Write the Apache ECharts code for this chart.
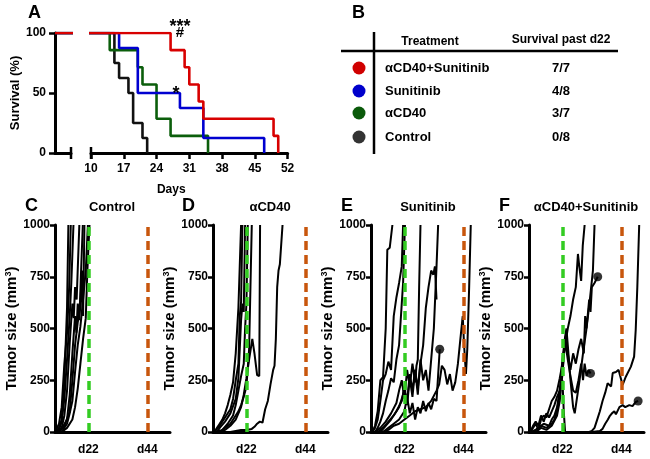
<!DOCTYPE html>
<html>
<head>
<meta charset="utf-8">
<script src="https://cdn.jsdelivr.net/npm/echarts@6/dist/echarts.min.js"></script>
<style>
  html, body { margin: 0; padding: 0; background: #fff; }
  #main { width: 650px; height: 459px; }
</style>
</head>
<body>
<div id="main"></div>
<script>
// ---- panel A: Kaplan-Meier survival, [day, % alive] ----
const survCombo   = [[0,100],[27,85.7],[30,71.4],[31,57.1],[33,42.9],[34,28.6],[49,14.3],[50,0]];
const survSun     = [[0,100],[16,87.5],[20,50],[29,37.5],[34,12.5],[47,0]];
const survCd40    = [[0,100],[14,85.7],[20,71.4],[21,57.1],[24,28.6],[27,14.3],[35,0]];
const survControl = [[0,100],[15,75],[16,62.5],[18,50],[19,25],[21,12.5],[22,0]];

// ---- panel B: table ----
const treatments = ['αCD40+Sunitinib', 'Sunitinib', 'αCD40', 'Control'];
const survivalPast22 = ['7/7', '4/8', '3/7', '0/8'];

// ---- panels C-F: tumor size per mouse, [day, mm3] ----
const controlMice = [
  [[10,0],[11,20],[12,60],[13,250],[14,600],[14.5,1000]],
  [[10,10],[11,40],[12,120],[13,330],[14,480],[14.8,700],[15.4,1000]],
  [[10,0],[11,10],[12,50],[13,160],[14,350],[15,560],[15.6,720],[16.4,1000]],
  [[10,0],[12,20],[13,80],[14,200],[15,430],[16,620],[16.5,550],[17,700],[17.6,640],[18.6,1000]],
  [[11,0],[12,15],[14,60],[15,180],[16,380],[17,560],[17.5,480],[18,620],[18.6,540],[19.2,760],[19.9,1000]],
  [[11,0],[13,30],[15,100],[16,250],[17,420],[18,530],[19,600],[19.5,780],[20,560],[20.5,1000]],
  [[12,0],[14,40],[15,90],[16,150],[17,290],[18,420],[19,510],[20,640],[21,780],[21.8,1000]],
  [[12,0],[14,20],[16,60],[17,120],[18,210],[19,330],[20,450],[21,550],[21.6,780],[22.4,1000]]
];
const cd40Mice = [
  [[10,0],[11,20],[12,40],[13,60],[14,90],[15,130],[16,180],[17,240],[18,380],[19,600],[19.5,800],[20,1000]],
  [[10,0],[12,30],[14,70],[16,110],[17,160],[18,250],[19,330],[19.5,560],[20,630],[20.5,1000]],
  [[11,0],[12,20],[14,50],[16,90],[18,160],[19,260],[20,540],[20.5,620],[21,580],[21.5,1000]],
  [[11,0],[13,10],[15,40],[17,80],[18,130],[19,200],[20,270],[21,330],[21.5,500],[22,620],[22.5,1000]],
  [[12,0],[14,20],[16,40],[18,80],[19,100],[20,130],[21,170],[22,220],[23,400],[23.5,700],[24,1000]],
  [[12,0],[14,10],[16,30],[18,60],[20,120],[21,180],[22,260],[23,350],[24.2,450],[25,380],[26,275],[26.8,270],[27.1,1000]],
  [[16,0],[18,5],[20,10],[22,10],[24,15],[25,25],[26,40],[27,50],[28,45],[29,110],[30,150],[31,230],[32,300],[32.5,320],[33,450],[33.5,700],[34,780],[34.5,810],[35.5,1000]]
];
const sunMice = [
  [[10,0],[11,30],[12,100],[13,250],[14,265],[15,500],[15.6,880],[16.5,890],[17.5,1000]],
  [[10,0],[11,20],[12,60],[13,150],[14,250],[15,280],[16,340],[17,300],[18,560],[19,650],[20,720],[21,800],[21.5,1000]],
  [[11,0],[12,20],[13,50],[14,90],[15,150],[16,200],[17,260],[18,240],[19,350],[20,420],[21,620],[21.5,720],[22.2,1000]],
  [[11,0],[13,20],[15,50],[17,90],[19,140],[20,200],[21,250],[22,160],[23,300],[24,220],[25,330],[26,240],[26.5,320],[27,350],[27.5,700],[28,1000]],
  [[12,0],[14,20],[16,50],[18,80],[20,120],[22,200],[23,150],[24,280],[25,200],[26,300],[27,180],[28,350],[29,250],[30,300],[31,200],[32,350],[33,500],[34,800],[34.6,1000]],
  [[13,0],[15,30],[17,60],[19,100],[21,150],[22,220],[23,130],[24,260],[25,170],[26,300],[27,210],[28,330],[29,420],[30,600],[31,700],[32,780],[32.8,760],[33.4,800],[34,640]],
  [[14,0],[16,20],[18,40],[20,60],[22,100],[23,170],[24,90],[25,140],[26,60],[27,120],[28,90],[29,150],[30,100],[31,140],[32,110],[33,160],[34,150],[35.2,400]],
  [[14,0],[16,10],[18,30],[20,40],[22,60],[24,80],[26,100],[28,110],[30,120],[32,150],[34,200],[35,230],[36,320],[37,300],[38,230],[39,280],[40,200],[41,240],[42,330],[43,460],[43.8,560],[44.3,420],[45,280],[45.5,400],[46.2,700],[46.8,1000]]
];
const comboMice = [
  [[10,0],[11,20],[12,40],[13,10],[14,60],[15,80],[16,70],[17,110],[18,150],[19,170],[20,200],[21,260],[22,330],[23,420],[24,500],[25,560],[26,640],[27,700],[27.8,860],[28.3,800],[29,730],[29.6,900],[30.3,1000]],
  [[10,0],[12,10],[14,30],[16,20],[18,40],[19,60],[20,100],[21,200],[22,350],[23,460],[23.5,500],[24,420],[25,250],[26,120],[26.6,90],[28.4,250],[29.7,380],[30.9,490],[32.1,620],[33.4,780],[34,1000]],
  [[11,0],[13,20],[15,40],[17,30],[18,60],[19,80],[20,120],[21,200],[22,280],[22.5,380],[23,460],[24,380],[25,300],[26,380],[27,330],[28,400],[29,450],[30,380],[30.5,560],[31,500],[32,640],[32.5,580],[33,700],[34,720],[35.2,750]],
  [[12,0],[14,20],[16,10],[18,30],[20,80],[21,150],[22,280],[23,440],[24,350],[25,270],[26,200],[27,190],[28,250],[29,330],[29.7,250],[30.3,330],[31,270],[31.8,300],[32.5,283]],
  [[30,0],[32,0],[33,5],[34,20],[35,60],[36,100],[37,150],[38,190],[38.9,235],[40.2,220],[40.8,285],[42,290],[43,300],[44.5,227],[45.7,267],[47.6,316],[48.8,364],[49.4,493],[50,700],[50.7,1000]],
  [[33,0],[36,5],[37,15],[38,40],[39,60],[39.6,75],[40.5,90],[41.4,100],[42,85],[43.3,120],[44.5,130],[45.5,120],[47,130],[48.2,125],[49.4,145],[50.3,150]],
  [[10,0],[11,30],[12,50],[13,30],[14,80],[15,50],[16,90],[17,70],[18,100],[19,130],[20,170],[21,200],[22,250],[22.5,100],[23,0]]
];
// mice whose last point is drawn as a dot
const sunDots = [6];
const comboDots = [2, 3, 5];
const markDays = [22, 44];

const FONT = '"Liberation Sans", Arial, sans-serif';
const txt = (size) => ({ fontFamily: FONT, fontWeight: 'bold', fontSize: size, color: '#000' });
const axisLine = { show: true, onZero: false, lineStyle: { color: '#000', width: 3 } };

const chart = echarts.init(document.getElementById('main'));

const tumorPanels = [
  { left: 55,  title: 'Control',         mice: controlMice, dots: [] },
  { left: 213, title: 'αCD40',           mice: cd40Mice,    dots: [] },
  { left: 371, title: 'Sunitinib',       mice: sunMice,     dots: sunDots },
  { left: 529, title: 'αCD40+Sunitinib', mice: comboMice,   dots: comboDots }
];

const grid = [
  { left: 55, top: 33, width: 16, height: 120 },
  { left: 91, top: 33, width: 196.6, height: 120 }
];
const xAxis = [
  { gridIndex: 0, type: 'value', min: 0, max: 3.5, axisLine, axisTick: { show: false },
    axisLabel: { show: false }, splitLine: { show: false } },
  { gridIndex: 1, type: 'value', min: 10, max: 52, interval: 7, axisLine,
    axisTick: { length: 6, lineStyle: { width: 2.5, color: '#000' } },
    axisLabel: Object.assign(txt(12), { margin: 10 }), splitLine: { show: false } }
];
const yAxis = [
  { gridIndex: 0, type: 'value', min: 0, max: 100, interval: 50, axisLine,
    axisTick: { length: 6, lineStyle: { width: 2.5, color: '#000' } },
    axisLabel: Object.assign(txt(12), { margin: 9 }), splitLine: { show: false },
    name: 'Survival (%)', nameLocation: 'middle', nameGap: 31, nameTextStyle: txt(13) },
  { gridIndex: 1, type: 'value', min: 0, max: 100, show: false }
];

const series = [];
const survGroups = [
  { data: survControl, color: '#111111' },
  { data: survCd40,    color: '#0b5e0b' },
  { data: survSun,     color: '#0000d0' },
  { data: survCombo,   color: '#d80000' }
];
[0, 1].forEach(g => {
  survGroups.forEach(s => {
    series.push({ type: 'line', xAxisIndex: g, yAxisIndex: g, step: 'end', data: s.data,
      symbol: 'none', lineStyle: { color: s.color, width: 2.6 }, silent: true, clip: true });
  });
});

tumorPanels.forEach((p, i) => {
  const idx = i + 2;
  grid.push({ left: p.left, top: 225, width: 115, height: 207 });
  xAxis.push({ gridIndex: idx, type: 'value', min: 9.5, max: 52.5, axisLine,
    axisTick: { show: false }, splitLine: { show: false },
    axisLabel: Object.assign(txt(12), { margin: 12, customValues: markDays, formatter: v => 'd' + v }) });
  yAxis.push({ gridIndex: idx, type: 'value', min: 0, max: 1000, interval: 250, axisLine,
    axisTick: { length: 5, lineStyle: { width: 2.5, color: '#000' } },
    axisLabel: Object.assign(txt(12), { margin: 5, formatter: v => String(v) }), splitLine: { show: false },
    name: 'Tumor size (mm{s|3})', nameLocation: 'middle', nameGap: 36,
    nameTextStyle: Object.assign(txt(15), { rich: { s: { fontFamily: FONT, fontWeight: 'bold', fontSize: 9, verticalAlign: 'top' } } }) });
  p.mice.forEach(m => {
    series.push({ type: 'line', xAxisIndex: idx, yAxisIndex: idx, data: m, symbol: 'none',
      lineStyle: { color: '#000', width: 2 }, silent: true, clip: true, z: 2 });
  });
  if (p.dots.length) {
    series.push({ type: 'scatter', xAxisIndex: idx, yAxisIndex: idx, symbolSize: 9,
      itemStyle: { color: '#000' }, silent: true, z: 3,
      data: p.dots.map(k => p.mice[k][p.mice[k].length - 1]) });
  }
  series.push({ type: 'line', xAxisIndex: idx, yAxisIndex: idx, data: [], z: 5,
    markLine: { symbol: 'none', silent: true, label: { show: false }, animation: false,
      data: [
        { xAxis: markDays[0], lineStyle: { color: '#33cc22', width: 3.5, type: [9, 5] } },
        { xAxis: markDays[1], lineStyle: { color: '#c8560c', width: 3.5, type: [9, 5] } }
      ] } });
});

const textEl = (text, x, y, size, align, vAlign) => ({
  type: 'text', z: 10, silent: true,
  style: { text, x, y, font: 'bold ' + size + 'px ' + FONT, fill: '#000',
    textAlign: align, textVerticalAlign: vAlign, align: align, verticalAlign: vAlign }
});

const graphic = [
  textEl('A', 28, 4, 18, 'left', 'top'),
  textEl('B', 352, 4, 18, 'left', 'top'),
  textEl('C', 25, 197, 18, 'left', 'top'),
  textEl('D', 182, 197, 18, 'left', 'top'),
  textEl('E', 341, 197, 18, 'left', 'top'),
  textEl('F', 499, 197, 18, 'left', 'top'),
  textEl('***', 180, 27, 18, 'center', 'middle'),
  textEl('#', 180, 33, 15, 'center', 'middle'),
  textEl('*', 176, 94, 18, 'center', 'middle'),
  // table B
  { type: 'line', silent: true, shape: { x1: 374, y1: 32, x2: 374, y2: 154 }, style: { stroke: '#000', lineWidth: 2.5 } },
  { type: 'line', silent: true, shape: { x1: 341, y1: 51, x2: 618, y2: 51 }, style: { stroke: '#000', lineWidth: 2.5 } },
  textEl('Treatment', 430, 42, 12, 'center', 'middle'),
  textEl('Survival past d22', 561, 40, 12, 'center', 'middle')
];
const dotColors = ['#d00000', '#0000cc', '#0a5a0a', '#333333'];
treatments.forEach((t, i) => {
  const y = [68, 91, 113, 137][i];
  graphic.push({ type: 'circle', silent: true, shape: { cx: 359, cy: y, r: 6.5 }, style: { fill: dotColors[i] } });
  graphic.push(textEl(t, 385, y, 13, 'left', 'middle'));
  graphic.push(textEl(survivalPast22[i], 561, y, 13, 'center', 'middle'));
});
tumorPanels.forEach(p => {
  graphic.push(textEl(p.title, p.left + 57, 207, 13, 'center', 'middle'));
});

chart.setOption({ animation: false, grid, xAxis, yAxis, series, graphic });

// axis break marks and the shared "Days" label, placed from the axes themselves
const brkA = chart.convertToPixel({ gridIndex: 0 }, [3.5, 0]);
const brkB = chart.convertToPixel({ gridIndex: 1 }, [10, 0]);
const startA = chart.convertToPixel({ gridIndex: 0 }, [0, 0]);
const endB = chart.convertToPixel({ gridIndex: 1 }, [52, 0]);
graphic.push(
  { type: 'line', silent: true, shape: { x1: brkA[0], y1: brkA[1] - 6, x2: brkA[0], y2: brkA[1] + 6 }, style: { stroke: '#000', lineWidth: 2.5 } },
  { type: 'line', silent: true, shape: { x1: brkB[0], y1: brkB[1] - 6, x2: brkB[0], y2: brkB[1] + 6 }, style: { stroke: '#000', lineWidth: 2.5 } },
  textEl('Days', (startA[0] + endB[0]) / 2, endB[1] + 37, 12, 'center', 'middle')
);
chart.setOption({ graphic });
</script>
</body>
</html>
